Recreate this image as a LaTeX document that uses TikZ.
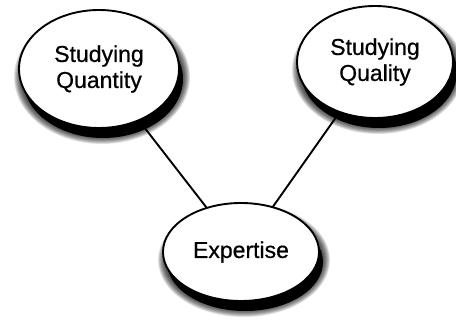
\documentclass[tikz,border=0pt]{standalone}
\usepackage{fontspec}
\setmainfont{Liberation Sans}
\newfontfamily\labelfont[FakeBold=0.6]{Liberation Sans}
\usetikzlibrary{shapes.geometric}
\pgfdeclarelayer{linklayer}
\pgfdeclarelayer{shadowlayer}
\pgfsetlayers{linklayer,shadowlayer,main}
\tikzset{
  bubble/.style={ellipse, draw=black, line width=1.9pt, fill=white, inner sep=0pt,
    font=\labelfont\fontsize{23}{26}\selectfont, align=center},
  link/.style={line width=1.9pt, draw=black},
}
\newcommand\bubbleshadow[4]{%
  \foreach \k in {10,9,...,1}{%
    \fill[black, opacity=0.11] (#1+3,#2+8) ellipse [x radius=#3+\k*0.8, y radius=#4+\k*0.8];
  }%
  \fill[black] (#1+4,#2+10) ellipse [x radius=#3, y radius=#4];
}
\begin{document}
\begin{tikzpicture}[x=1pt,y=-1pt]
\useasboundingbox (0,0) rectangle (456,320);
\begin{pgfonlayer}{shadowlayer}
\bubbleshadow{99}{69}{80}{59}
\bubbleshadow{375}{62}{78}{56}
\bubbleshadow{241}{252}{78}{49}
\end{pgfonlayer}
\node[bubble, minimum width=160pt, minimum height=118pt] (qn) at (99,69) {Studying\\Quantity};
\node[bubble, minimum width=156pt, minimum height=112pt] (ql) at (375,62) {Studying\\Quality};
\node[bubble, minimum width=156pt, minimum height=98pt] (ex) at (241,252) {Expertise};
\begin{pgfonlayer}{linklayer}
\draw[link] (qn.center) -- (ex.center);
\draw[link] (ql.center) -- (ex.center);
\end{pgfonlayer}
\end{tikzpicture}
\end{document}
